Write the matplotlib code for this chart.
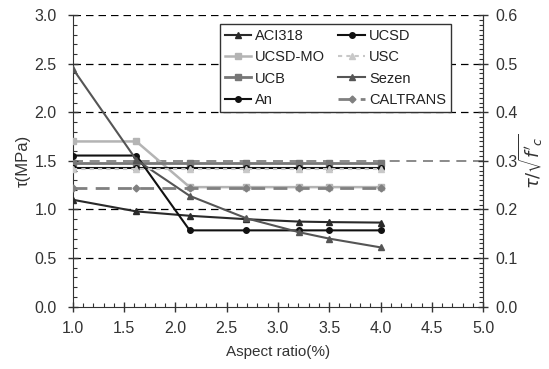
import matplotlib.pyplot as plt
from matplotlib.ticker import MultipleLocator

plt.rcParams['font.family'] = ['Liberation Sans', 'DejaVu Sans']

# aspect ratio of the tested columns
aspect = [1.0, 1.62, 2.14, 2.69, 3.21, 3.5, 4.0]

# shear strength (MPa) by each model
aci318 = [1.10, 0.98, 0.935, 0.90, 0.875, 0.87, 0.865]
ucsd_mo = [1.70, 1.70, 1.23, 1.23, 1.23, 1.23, 1.23]
ucb = [1.475, 1.475, 1.475, 1.475, 1.475, 1.475, 1.475]
an = [1.425, 1.425, 1.425, 1.425, 1.425, 1.425, 1.425]
ucsd = [1.555, 1.555, 0.785, 0.785, 0.785, 0.785, 0.785]
usc = [1.42, 1.42, 1.42, 1.42, 1.42, 1.42, 1.42]
sezen = [2.45, 1.51, 1.14, 0.91, 0.765, 0.70, 0.61]
caltrans = [1.225, 1.225, 1.225, 1.225, 1.225, 1.225, 1.225]

txt = '#333333'

fig = plt.figure(figsize=(5.49, 3.69), dpi=100)
ax = fig.add_axes([0.1325, 0.169, 0.7475, 0.79])

# grid
for g in [0.5, 1.0, 2.0, 2.5, 3.0]:
    ax.axhline(g, color='black', ls=(0, (6, 4)), lw=0.9, zorder=1)
ax.axhline(1.5, color='#777777', ls=(0, (6, 4)), lw=1.2, zorder=1)

ax.plot(aspect, aci318, color='#2a2a2a', marker='^', ms=4, lw=1.5, label='ACI318', zorder=3)
ax.plot(aspect, ucsd_mo, color='#b4b4b4', marker='s', ms=4, lw=1.8, label='UCSD-MO', zorder=3)
ax.plot(aspect, ucb, color='#777777', marker='s', ms=4, lw=2.0, label='UCB', zorder=3)
ax.plot(aspect, an, color='#111111', marker='o', ms=4, lw=1.5, label='An', zorder=3)
ax.plot(aspect, ucsd, color='#111111', marker='o', ms=4, lw=1.5, label='UCSD', zorder=3)
ax.plot(aspect, usc, color='#c8c8c8', marker='^', ms=4, lw=1.5, ls=(0, (2, 2)),
        label='USC', zorder=4)
ax.plot(aspect, sezen, color='#555555', marker='^', ms=4.5, lw=1.5, label='Sezen', zorder=3)
ax.plot(aspect, caltrans, color='#808080', marker='D', ms=3.5, lw=2.0, ls=(0, (5, 3)),
        label='CALTRANS', zorder=3)

ax.set_xlim(1.0, 5.0)
ax.set_ylim(0.0, 3.0)
ax.xaxis.set_major_locator(MultipleLocator(0.5))
ax.xaxis.set_minor_locator(MultipleLocator(0.1))
ax.yaxis.set_major_locator(MultipleLocator(0.5))
ax.yaxis.set_minor_locator(MultipleLocator(0.1))
ax.tick_params(which='major', direction='inout', length=7, width=1, labelsize=11.5,
               colors=txt)
ax.tick_params(axis='x', which='major', pad=7)
ax.tick_params(axis='y', which='major', pad=8)
ax.tick_params(which='minor', direction='in', length=3, width=0.8, colors=txt)
ax.xaxis.set_major_formatter(lambda v, p: f'{v:.1f}')
ax.yaxis.set_major_formatter(lambda v, p: f'{v:.1f}')
ax.spines['top'].set_visible(False)
for s in ['left', 'bottom', 'right']:
    ax.spines[s].set_color(txt)

ax.set_xlabel('Aspect ratio(%)', fontsize=11, color=txt, labelpad=6)
ax.set_ylabel('τ(MPa)', fontsize=12, color=txt, labelpad=3)

ax2 = ax.twinx()
ax2.set_ylim(0.0, 0.6)
ax2.yaxis.set_major_locator(MultipleLocator(0.1))
ax2.yaxis.set_minor_locator(MultipleLocator(0.01))
ax2.yaxis.set_major_formatter(lambda v, p: f'{v:.1f}')
ax2.tick_params(which='major', direction='inout', length=7, width=1, labelsize=11.5,
                colors=txt, pad=5)
ax2.tick_params(which='minor', direction='in', length=3, width=0.8, colors=txt)
for s in ['top', 'left', 'bottom']:
    ax2.spines[s].set_visible(False)
ax2.spines['right'].set_color(txt)
ax2.set_ylabel(r"$\tau/\sqrt{f'_c}$", fontsize=13, color=txt, labelpad=0)

leg = ax.legend(ncol=2, loc='upper right', bbox_to_anchor=(0.94, 0.995), fontsize=10.5,
                frameon=True, fancybox=False, edgecolor=txt, framealpha=1,
                handlelength=1.8, columnspacing=0.9, labelspacing=0.5,
                borderpad=0.35, handletextpad=0.3)
leg.get_frame().set_linewidth(1.0)
for t in leg.get_texts():
    t.set_color('#222222')

fig.savefig('out.png', dpi=100)
